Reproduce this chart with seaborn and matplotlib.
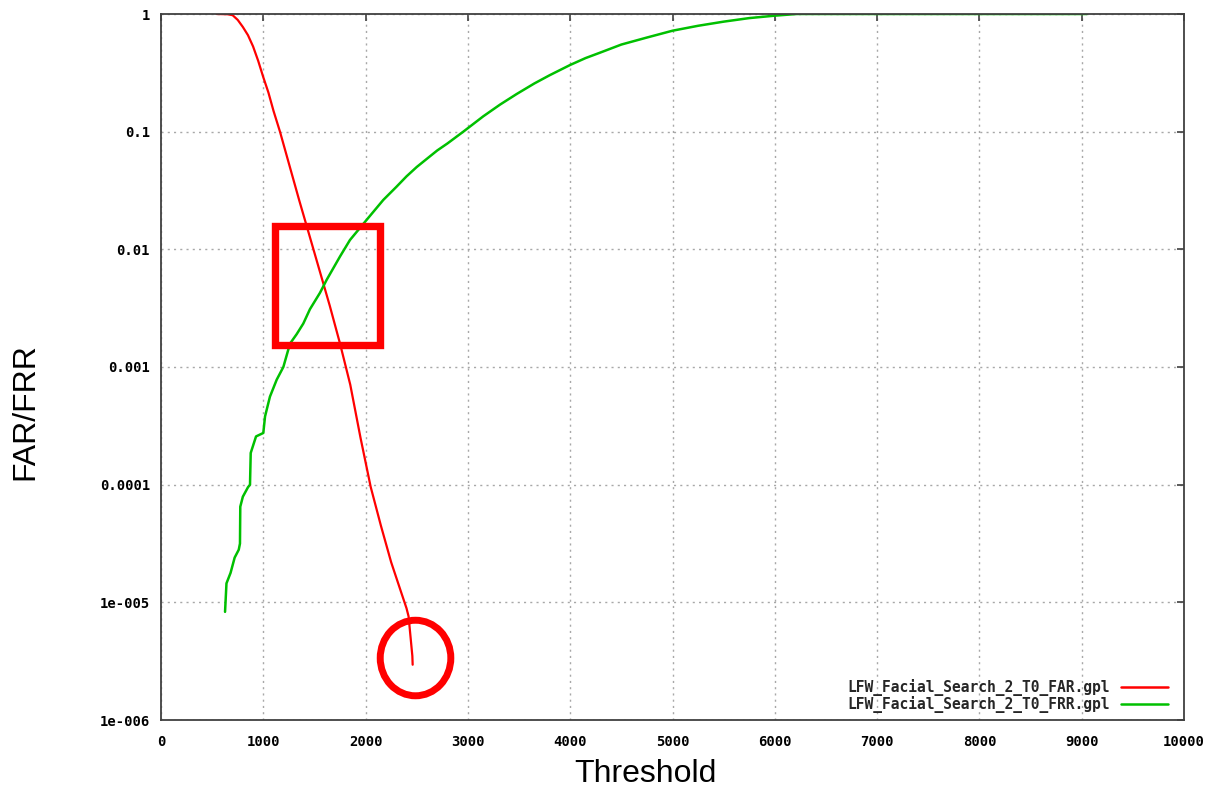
import numpy as np
import pandas as pd
import matplotlib
matplotlib.use("Agg")
import matplotlib.pyplot as plt
import seaborn as sns
from matplotlib.patches import Rectangle, Ellipse
from matplotlib.ticker import NullLocator, FixedLocator

# ---- data ----
far_threshold = [544, 650, 700, 750, 800, 850, 900, 950, 1000, 1050, 1100, 1163,
                 1250, 1350, 1450, 1550, 1650, 1750, 1850, 1950, 2050, 2150,
                 2250, 2350, 2400, 2420, 2440, 2457, 2460]
far_value = [1.0, 0.995, 0.977, 0.891, 0.776, 0.661, 0.530, 0.400, 0.290, 0.215,
             0.150, 0.100, 0.0537, 0.0263, 0.0132, 0.00661, 0.00331, 0.00158,
             7.08e-4, 2.51e-4, 9.55e-5, 4.47e-5, 2.19e-5, 1.20e-5, 8.9e-6,
             7.6e-6, 5.0e-6, 3.5e-6, 2.95e-6]

frr_threshold = [626, 640, 680, 720, 760, 772, 775, 800, 850, 870, 877, 929, 1000,
                 1017, 1065, 1131, 1196, 1261, 1326, 1391, 1456, 1554, 1619,
                 1750, 1847, 2010, 2173, 2300, 2400, 2500, 2600, 2700, 2800,
                 2955, 3150, 3315, 3477, 3650, 3800, 4000, 4150, 4291, 4500,
                 4750, 5000, 5250, 5500, 5750, 6000, 6215, 9050]
frr_value = [8.3e-6, 1.45e-5, 1.78e-5, 2.4e-5, 2.8e-5, 3.16e-5, 6.5e-5, 7.9e-5,
             9.5e-5, 1.0e-4, 1.86e-4, 2.57e-4, 2.75e-4, 3.8e-4, 5.6e-4, 7.8e-4,
             1.0e-3, 1.58e-3, 1.9e-3, 2.34e-3, 3.1e-3, 4.27e-3, 5.5e-3, 8.7e-3,
             0.012, 0.0178, 0.0263, 0.0339, 0.0417, 0.0501, 0.0589, 0.0692,
             0.0794, 0.100, 0.135, 0.170, 0.209, 0.257, 0.302, 0.369, 0.422,
             0.469, 0.550, 0.631, 0.721, 0.794, 0.861, 0.923, 0.968, 1.0, 1.0]

series_labels = ["LFW_Facial_Search_2_T0_FAR.gpl", "LFW_Facial_Search_2_T0_FRR.gpl"]
x_ticks = [0, 1000, 2000, 3000, 4000, 5000, 6000, 7000, 8000, 9000, 10000]
y_ticks = [1, 0.1, 0.01, 0.001, 0.0001, 1e-5, 1e-6]
y_tick_labels = ["1", "0.1", "0.01", "0.001", "0.0001", "1e-005", "1e-006"]

# highlight shapes (threshold / rate ranges)
box_x = (1117, 2144)
box_y = (0.00155, 0.0157)

sns.set_theme(style="white")
plt.rcParams["font.family"] = ["DejaVu Sans Mono", "DejaVu Sans"]

fig = plt.figure(figsize=(12.15, 7.89), dpi=100)
ax = fig.add_axes([161 / 1215, 69 / 789, 1023 / 1215, 706 / 789])

far_df = pd.DataFrame({"threshold": far_threshold, "rate": far_value})
frr_df = pd.DataFrame({"threshold": frr_threshold, "rate": frr_value})

sns.lineplot(data=far_df, x="threshold", y="rate", ax=ax, color="#ff0000",
             lw=1.6, sort=False, estimator=None, label=series_labels[0])
sns.lineplot(data=frr_df, x="threshold", y="rate", ax=ax, color="#00c000",
             lw=1.8, sort=False, estimator=None, label=series_labels[1])

ax.set_yscale("log")
ax.set_xlim(0, 10000)
ax.set_ylim(1e-6, 1)
ax.xaxis.set_major_locator(FixedLocator(x_ticks))
ax.set_xticklabels([str(v) for v in x_ticks])
ax.yaxis.set_major_locator(FixedLocator(y_ticks))
ax.yaxis.set_minor_locator(NullLocator())
ax.set_yticklabels(y_tick_labels)

for lab in ax.get_xticklabels() + ax.get_yticklabels():
    lab.set_fontfamily("DejaVu Sans Mono")
    lab.set_fontweight("bold")
    lab.set_fontsize(10)
    lab.set_color("black")

ax.tick_params(axis="both", which="major", direction="in", length=5, width=1.2,
               color="#404040", top=True, right=True)
ax.tick_params(axis="x", pad=11)
ax.tick_params(axis="y", pad=8)

ax.grid(True, which="major", color="#a8a8a8", linestyle=(0, (1.5, 3)), lw=1.0)
for s in ax.spines.values():
    s.set_color("#404040")
    s.set_linewidth(1.3)

ax.set_xlabel("")
ax.set_ylabel("")
fig.text(645 / 1215, 1 - 782 / 789, "Threshold", family="Liberation Sans",
         fontsize=23, ha="center", va="baseline", color="black")
fig.text(33 / 1215, 1 - 412 / 789, "FAR/FRR", family="Liberation Sans",
         fontsize=23, ha="center", va="baseline", rotation=90,
         rotation_mode="anchor", color="black")

# red highlight rectangle and circle
ax.add_patch(Rectangle((box_x[0], box_y[0]), box_x[1] - box_x[0],
                       box_y[1] - box_y[0], fill=False, edgecolor="#ff0000",
                       lw=5.3, joinstyle="miter", zorder=5))
ax.add_patch(Ellipse((0.2488, 0.0878), 0.069, 0.107, transform=ax.transAxes,
                     fill=False, edgecolor="#ff0000", lw=5.0, zorder=5))

leg = ax.legend(loc="lower right", bbox_to_anchor=(1 - 16 / 1023, 7 / 706),
                frameon=False, markerfirst=False, handlelength=3.2,
                handletextpad=0.8, labelspacing=0.0, borderaxespad=0,
                borderpad=0, prop={"family": "DejaVu Sans Mono",
                                   "weight": "bold", "size": 10.5})
for line in leg.get_lines():
    line.set_linewidth(1.8)

fig.savefig("out.png", dpi=100)
